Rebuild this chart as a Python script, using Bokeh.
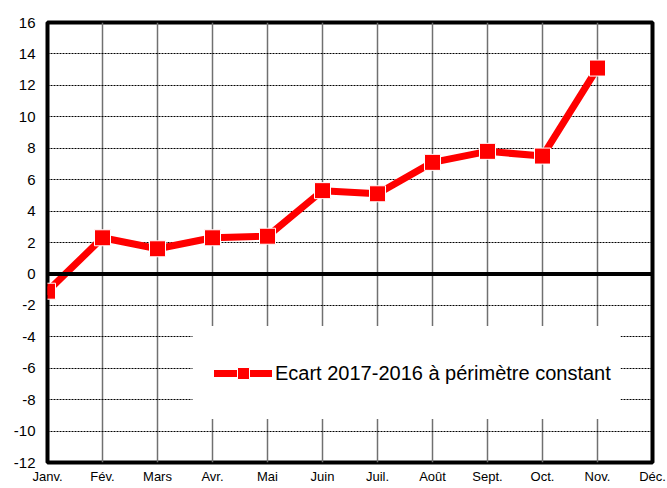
from bokeh.plotting import figure
from bokeh.models import (FixedTicker, Span, BoxAnnotation, Legend, LegendItem)
from bokeh.embed import file_html
from bokeh.resources import INLINE

months = ["Janv.", "Fév.", "Mars", "Avr.", "Mai", "Juin", "Juil.", "Août",
          "Sept.", "Oct.", "Nov.", "Déc."]
ecart = [-1.1, 2.3, 1.6, 2.3, 2.4, 5.3, 5.1, 7.1, 7.8, 7.5, 13.1]
y_ticks = list(range(-12, 17, 2))
series_name = "Ecart 2017-2016 à périmètre constant"

FONT = "Liberation Sans"

x_idx = list(range(len(ecart)))

p = figure(width=667, height=488, output_backend="svg", toolbar_location=None,
           x_range=(0, len(months) - 1), y_range=(y_ticks[0], y_ticks[-1]),
           min_border_left=47, min_border_top=22, min_border_right=15,
           min_border_bottom=26)
p.background_fill_color = "white"
p.border_fill_color = "white"
p.outline_line_color = "black"
p.outline_line_width = 4

p.xaxis.ticker = FixedTicker(ticks=list(range(len(months))))
p.xaxis.major_label_overrides = {i: m for i, m in enumerate(months)}
p.yaxis.ticker = FixedTicker(ticks=y_ticks)
p.yaxis.major_label_overrides = {t: str(t) for t in y_ticks}
for ax in (p.xaxis, p.yaxis):
    ax.axis_line_color = None
    ax.major_tick_line_color = None
    ax.minor_tick_line_color = None
    ax.major_tick_in = 0
    ax.major_tick_out = 0
    ax.minor_tick_in = 0
    ax.minor_tick_out = 0
    ax.major_label_text_font = FONT
    ax.major_label_text_color = "black"
p.xaxis.major_label_text_font_size = "13px"
p.yaxis.major_label_text_font_size = "15px"
p.xaxis.major_label_standoff = 6
p.yaxis.major_label_standoff = 12

p.xgrid.grid_line_color = "#707070"
p.xgrid.grid_line_width = 1.5
p.ygrid.grid_line_color = "black"
p.ygrid.grid_line_width = 1
p.ygrid.grid_line_dash = "2 1"

p.add_layout(Span(location=0, dimension="width", line_color="black", line_width=4))

ln = p.line(x_idx, ecart, line_color="#ff0000", line_width=7, line_join="round",
            line_cap="round")
sc = p.scatter(x_idx, ecart, marker="square", size=16, fill_color="#ff0000",
               line_color="white", line_width=1)

p.add_layout(BoxAnnotation(left=2.636, right=10.42, top=-3.32, bottom=-9.23,
                           fill_color="white", fill_alpha=1, line_color=None))

legend = Legend(items=[LegendItem(label=series_name, renderers=[ln, sc])],
                location=(167, 74), padding=0, margin=0,
                glyph_width=58, glyph_height=30, label_standoff=3,
                label_text_font=FONT, label_text_font_size="20px",
                label_text_color="black",
                background_fill_alpha=0, border_line_alpha=0)
p.add_layout(legend, "center")

open("out.html", "w").write(file_html(p, INLINE))
